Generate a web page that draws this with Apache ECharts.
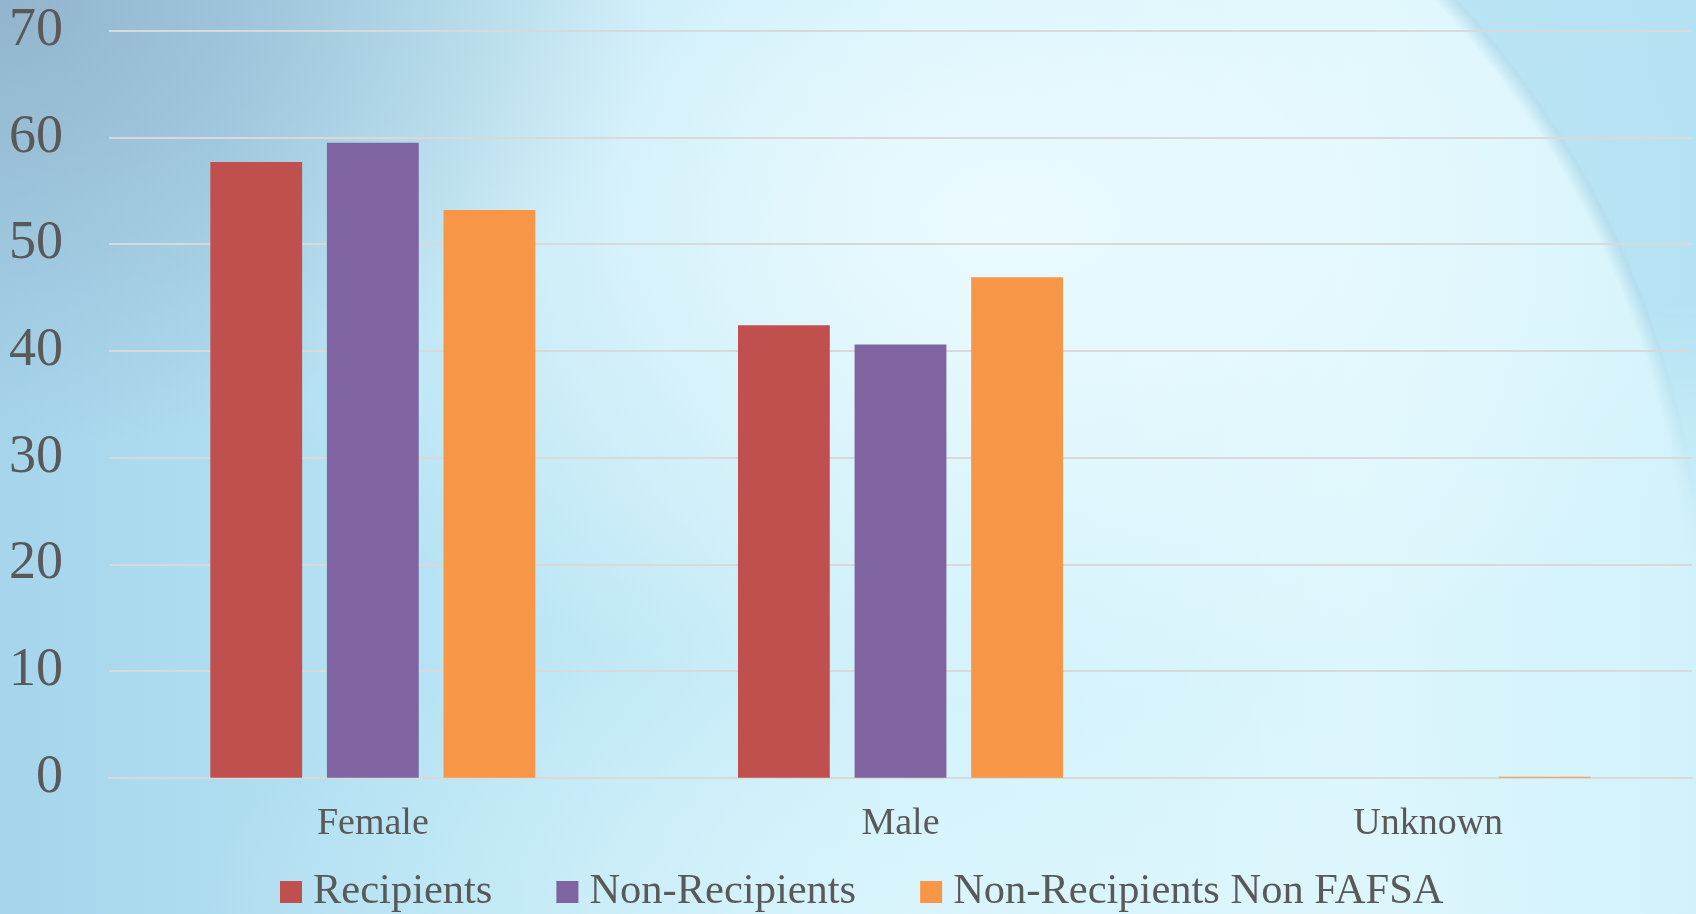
<!doctype html>
<html>
<head>
	<meta charset="utf-8">
	<title>Gender</title>
	<script src="https://cdn.jsdelivr.net/npm/echarts@6/dist/echarts.min.js"></script>
	<style>
		html, body {margin:0; padding:0;}
		#wrap {
			position:relative; width:1696px; height:914px; overflow:hidden;
			background:
				radial-gradient(ellipse 650px 450px at 0px 0px, rgba(140,170,195,0.75), rgba(160,200,225,0) 100%),
				radial-gradient(ellipse 800px 500px at 1000px 220px, rgba(240,252,255,0.85), rgba(220,246,253,0) 100%),
				radial-gradient(ellipse 700px 300px at 900px 914px, rgba(225,248,253,0.6), rgba(220,246,253,0) 100%),
				linear-gradient(90deg, #a6d5ec 0%, #b6e3f3 25%, #d0f1fb 55%, #dcf6fc 80%, #d2f2fb 100%);
		}
		/* page-curl arc in the top right corner */
		#wrap:before {
			content:''; position:absolute; left:1300px; top:0; width:396px; height:560px;
			background: radial-gradient(circle 948px at -540px 640px, rgba(160,215,238,0) 98%, rgba(135,195,222,0.45) 99.7%, rgba(155,212,236,0.55) 100%);
			-webkit-mask-image: linear-gradient(to bottom, #000 55%, transparent 100%);
			mask-image: linear-gradient(to bottom, #000 55%, transparent 100%);
		}
		#main {position:relative; z-index:1; width:1696px; height:914px;}
	</style>
</head>
<body>
	<div id="wrap"><div id="main"></div></div>
<script>
	"use strict";
	var categories = ['Female', 'Male', 'Unknown'];
	var recipients = [57.7, 42.4, 0];
	var nonRecipients = [59.5, 40.6, 0];
	var nonFafsa = [53.2, 46.9, 0.1];
	var yTicks = [0, 10, 20, 30, 40, 50, 60, 70];

	var font = '"Liberation Serif", "Times New Roman", serif';
	var myChart = echarts.init(document.getElementById('main'));

	function bar(name, data, color) {
		return {
			name: name,
			type: 'bar',
			data: data,
			barWidth: '17.4%',
			barGap: '27%',
			itemStyle: {color: color}
		};
	}

	myChart.setOption({
		backgroundColor: 'transparent',
		animation: false,
		grid: {left: 109, right: 4, top: 30.8, bottom: 136.3, containLabel: false},
		legend: {
			left: 280,
			top: 868,
			padding: 0,
			itemWidth: 22,
			itemHeight: 22,
			itemGap: 64,
			icon: 'rect',
			textStyle: {fontFamily: font, fontSize: 42.5, lineHeight: 48, color: '#595959', padding: [0, 0, 0, 6]},
			data: ['Recipients', 'Non-Recipients', 'Non-Recipients Non FAFSA']
		},
		xAxis: {
			type: 'category',
			data: categories,
			axisLine: {show: true, lineStyle: {color: '#d9d9d9', width: 2}},
			axisTick: {show: false},
			axisLabel: {fontFamily: font, fontSize: 38, color: '#595959', margin: 27}
		},
		yAxis: {
			type: 'value',
			min: yTicks[0],
			max: yTicks[yTicks.length - 1],
			interval: 10,
			axisLine: {show: false},
			axisTick: {show: false},
			splitLine: {lineStyle: {color: '#d9d9d9', width: 2}},
			axisLabel: {fontFamily: font, fontSize: 54, color: '#595959', margin: 46}
		},
		series: [
			bar('Recipients', recipients, '#c0504d'),
			bar('Non-Recipients', nonRecipients, '#8064a2'),
			bar('Non-Recipients Non FAFSA', nonFafsa, '#f79646')
		]
	});
</script>
</body>
</html>
